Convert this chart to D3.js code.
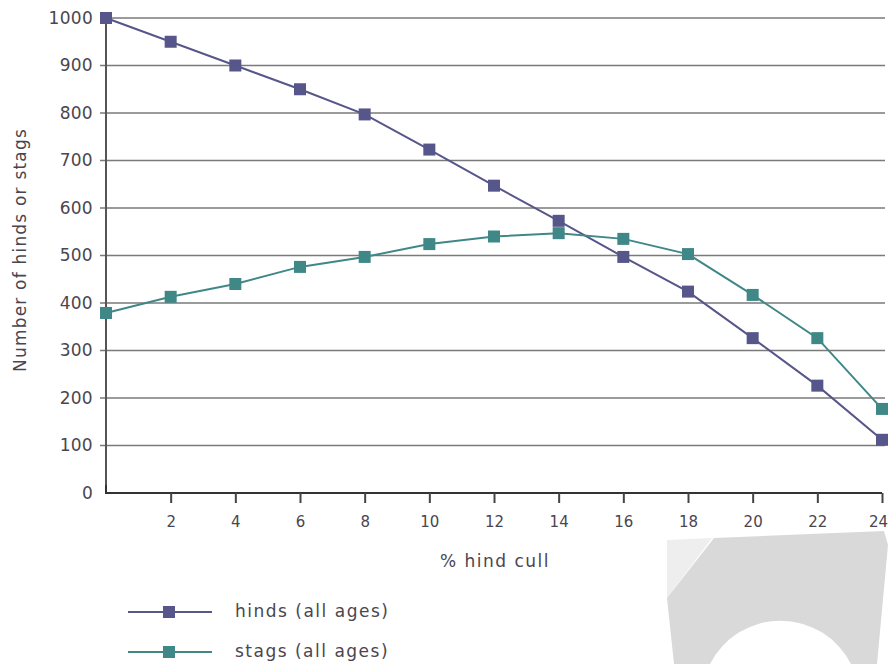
<!DOCTYPE html>
<html>
<head>
<meta charset="utf-8">
<script src="https://cdn.jsdelivr.net/npm/d3@7"></script>
<style>
  body { margin: 0; background: #fff; }
  text { font-family: "DejaVu Sans", sans-serif; fill: #4a4650; }
</style>
</head>
<body>
<div id="chart"></div>
<script>
// data
const cullPct = [0, 2, 4, 6, 8, 10, 12, 14, 16, 18, 20, 22, 24];
const hinds = [1000, 950, 900, 850, 797, 723, 647, 573, 497, 424, 326, 226, 112];
const stags = [379, 413, 440, 476, 497, 524, 540, 547, 535, 503, 417, 326, 177];
const yTicks = [0, 100, 200, 300, 400, 500, 600, 700, 800, 900, 1000];
const xTicks = [2, 4, 6, 8, 10, 12, 14, 16, 18, 20, 22, 24];
const seriesNames = ["hinds (all ages)", "stags (all ages)"];
const seriesColors = ["#57568a", "#3f8887"];

const W = 888, H = 664;
const margin = {top: 18, right: 6, bottom: 171, left: 106};
const width = W - margin.left - margin.right;
const height = H - margin.top - margin.bottom;

const svg = d3.select("#chart").append("svg")
    .attr("width", W)
    .attr("height", H);

// faint decorative shape bottom right
const deco = svg.append("g");
deco.append("path")
    .attr("d", "M667,540 L712,538 L667,598 Z")
    .attr("fill", "#eeeeee");
deco.append("path")
    .attr("d", "M667,598 L714,538 L810,534 L884,531 L888,545 L877,664 L851,664 A79,79 0 0 0 710,664 L674,664 Z")
    .attr("fill", "#d9d9d9");

const g = svg.append("g")
    .attr("transform", `translate(${margin.left},${margin.top})`);

const x = d3.scaleLinear().domain([0, 24]).range([0, width]);
const y = d3.scaleLinear().domain([0, 1000]).range([height, 0]);

// horizontal grid lines
g.selectAll(".grid")
    .data(yTicks.filter(d => d > 0))
    .enter()
    .append("line")
    .attr("class", "grid")
    .attr("x1", -6)
    .attr("x2", width + 3)
    .attr("y1", d => y(d))
    .attr("y2", d => y(d))
    .style("stroke", "#7a7a7a")
    .style("stroke-width", 1.6);

// y axis
const yAxis = g.append("g")
    .call(d3.axisLeft(y).tickValues(yTicks).tickSize(0).tickPadding(13).tickFormat(d3.format("d")));
yAxis.select(".domain").remove();
yAxis.selectAll("text")
    .style("font-size", "17px")
    .style("font-family", "DejaVu Sans, sans-serif")
    .style("letter-spacing", "0.3px")
    .style("fill", "#4a4650");

g.append("line")
    .attr("x1", 0).attr("x2", 0)
    .attr("y1", y(1000)).attr("y2", height)
    .style("stroke", "#555")
    .style("stroke-width", 2);

// x axis
const xAxis = g.append("g")
    .attr("transform", `translate(0,${height})`)
    .call(d3.axisBottom(x).tickValues(xTicks).tickSize(10).tickPadding(13).tickSizeOuter(0));
xAxis.select(".domain")
    .attr("d", `M0,-8V0H${width}`)
    .style("stroke", "#333")
    .style("stroke-width", 2);
xAxis.selectAll(".tick line")
    .style("stroke", "#444")
    .style("stroke-width", 2);
xAxis.selectAll("text")
    .style("font-size", "15px")
    .style("font-family", "DejaVu Sans, sans-serif")
    .style("fill", "#4a4650")
    .attr("dx", d => d === 24 ? -4 : 0);

// axis titles
svg.append("text")
    .attr("transform", "translate(26,250) rotate(-90)")
    .attr("text-anchor", "middle")
    .style("font-size", "17px")
    .style("letter-spacing", "1.2px")
    .text("Number of hinds or stags");

svg.append("text")
    .attr("x", 495)
    .attr("y", 567)
    .attr("text-anchor", "middle")
    .style("font-size", "17px")
    .style("letter-spacing", "1.5px")
    .text("% hind cull");

// lines and markers
const series = [hinds, stags];
const line = d3.line()
    .x((d, i) => x(cullPct[i]))
    .y(d => y(d));

series.forEach((values, s) => {
    g.append("path")
        .datum(values)
        .attr("d", line)
        .style("fill", "none")
        .style("stroke", seriesColors[s])
        .style("stroke-width", 2);

    g.selectAll(".pt" + s)
        .data(values)
        .enter()
        .append("rect")
        .attr("class", "pt" + s)
        .attr("x", (d, i) => x(cullPct[i]) - 6)
        .attr("y", d => y(d) - 6)
        .attr("width", 12)
        .attr("height", 12)
        .style("fill", seriesColors[s]);
});

// legend
const legend = svg.append("g")
    .attr("transform", "translate(128,612)");
seriesNames.forEach((name, s) => {
    const row = legend.append("g")
        .attr("transform", `translate(0,${s * 40})`);
    row.append("line")
        .attr("x1", 0).attr("x2", 84)
        .attr("y1", 0).attr("y2", 0)
        .style("stroke", seriesColors[s])
        .style("stroke-width", 2);
    row.append("rect")
        .attr("x", 35).attr("y", -6)
        .attr("width", 12).attr("height", 12)
        .style("fill", seriesColors[s]);
    row.append("text")
        .attr("x", 107)
        .attr("y", 5)
        .style("font-size", "17px")
        .style("letter-spacing", "1.5px")
        .text(name);
});
</script>
</body>
</html>
